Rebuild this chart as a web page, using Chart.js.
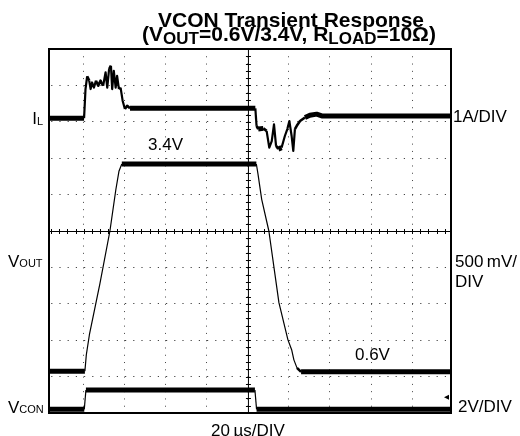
<!DOCTYPE html>
<html>
<head>
<meta charset="utf-8">
<script src="https://cdn.jsdelivr.net/npm/chart.js@4.4.0/dist/chart.umd.min.js"></script>
<style>
  html, body { margin: 0; padding: 0; background: #fff; }
</style>
</head>
<body>
<canvas id="scope" width="520" height="436"></canvas>
<script>
// x = time in µs (20 µs/DIV), y = divisions from screen centre
const xTicks = [-80, -60, -40, -20, 0, 20, 40, 60, 80];
const yTicks = [-4, -3, -2, -1, 0, 1, 2, 3, 4];

// inductor current I_L (1A/DIV)
const ilTime = [-97, -79.9, -79.2, -78.4, -77.4, -76.7, -76.0, -75.1, -74.1, -73.0, -71.9, -70.6,
  -69.4, -68.6, -67.7, -66.8, -66.2, -65.4, -64.5, -63.8, -62.9, -62.1, -61.1, -60.0, -58.9, -57.5,
  3.6, 4.2, 5.0, 7.5, 9.1, 10.4, 11.6, 12.7, 13.7, 14.8, 16.4, 18.0, 19.2, 20.2, 21.3, 22.1, 22.9,
  23.8, 25.4, 27.8, 30.2, 33.5, 36, 99];
const ilDiv = [3.10, 3.10, 3.90, 4.25, 4.13, 3.90, 4.08, 3.94, 4.13, 3.99, 4.13, 3.99,
  4.36, 3.94, 4.45, 4.54, 3.90, 4.40, 3.94, 4.26, 3.90, 3.94, 3.58, 3.35, 3.44, 3.37,
  3.37, 2.89, 2.80, 2.82, 2.75, 2.29, 2.47, 2.93, 2.34, 2.25, 2.29, 2.61, 2.80, 3.02, 2.61, 2.20, 2.80,
  2.89, 3.02, 3.12, 3.18, 3.21, 3.16, 3.16];

// output voltage V_OUT (500 mV/DIV)
const voutTime = [-97, -79.5, -78.8, -77.3, -72.2, -67.3, -64.4, -62.9, -61.5,
  4.1, 4.9, 6.7, 10.2, 15.1, 19.5, 21.3, 22.4, 23.9, 25.9, 99];
const voutDiv = [-3.85, -3.85, -3.40, -2.85, -1.45, 0.0, 1.14, 1.64, 1.84,
  1.84, 1.56, 0.87, 0.0, -1.97, -2.99, -3.26, -3.54, -3.76, -3.87, -3.87];

// control input V_CON (2V/DIV)
const vconTime = [-97, -79.8, -79.0, 3.4, 4.2, 99];
const vconDiv = [-4.90, -4.90, -4.37, -4.37, -4.90, -4.90];

const FONT = '"Liberation Sans", Arial, Helvetica, sans-serif';

const toPoints = (xs, ys) => xs.map((x, i) => ({ x: x, y: ys[i] }));

// flat parts of a scope trace look thick (noise), fast edges are thin
const traceWidth = (thin) => (ctx) => {
  const dx = Math.abs(ctx.p1.x - ctx.p0.x);
  const dy = Math.abs(ctx.p1.y - ctx.p0.y);
  if (dy > dx * 2.5) return thin;
  if (dy > dx * 0.6) return Math.max(thin, 2.6);
  return 5;
};

const trace = (xs, ys, thin) => ({
  data: toPoints(xs, ys),
  borderColor: '#000',
  borderWidth: 5,
  borderCapStyle: 'butt',
  borderJoinStyle: 'round',
  pointRadius: 0,
  tension: 0,
  segment: { borderWidth: traceWidth(thin) }
});

function richText(ctx, parts, x, y, align) {
  let w = 0;
  parts.forEach(p => { ctx.font = p.font; w += ctx.measureText(p.text).width; });
  let cx = align === 'center' ? x - w / 2 : (align === 'right' ? x - w : x);
  parts.forEach(p => {
    ctx.font = p.font;
    ctx.fillText(p.text, cx, y + (p.dy || 0));
    cx += ctx.measureText(p.text).width;
  });
}

const scopeFrame = {
  id: 'scopeFrame',
  beforeDatasetsDraw(chart) {
    const ctx = chart.ctx, a = chart.chartArea;
    const xs = chart.scales.x, ys = chart.scales.y;
    const cx = xs.getPixelForValue(0), cy = ys.getPixelForValue(0);
    ctx.save();
    ctx.strokeStyle = '#000';
    ctx.lineWidth = 1;
    ctx.beginPath();
    ctx.moveTo(a.left, cy + 0.5); ctx.lineTo(a.right, cy + 0.5);
    ctx.moveTo(cx + 0.5, a.top); ctx.lineTo(cx + 0.5, a.bottom);
    // minor ticks, 5 per division
    for (let t = -96; t <= 98; t += 4) {
      const px = Math.round(xs.getPixelForValue(t)) + 0.5;
      ctx.moveTo(px, cy - 2); ctx.lineTo(px, cy + 3);
    }
    for (let d = -4.8; d <= 4.81; d += 0.2) {
      const py = Math.round(ys.getPixelForValue(d)) + 0.5;
      ctx.moveTo(cx - 2, py); ctx.lineTo(cx + 3, py);
    }
    ctx.stroke();
    ctx.restore();
  },
  afterDraw(chart) {
    const ctx = chart.ctx, a = chart.chartArea;
    const xs = chart.scales.x, ys = chart.scales.y;
    ctx.save();
    ctx.strokeStyle = '#000';
    ctx.lineWidth = 2;
    ctx.strokeRect(a.left, a.top, a.right - a.left, a.bottom - a.top);

    // channel ground marker at the right edge
    const gy = ys.getPixelForValue(-4.57), gx = a.right - 2;
    ctx.fillStyle = '#000';
    ctx.beginPath();
    ctx.moveTo(gx - 5, gy); ctx.lineTo(gx, gy - 2.5); ctx.lineTo(gx, gy + 2.5);
    ctx.closePath();
    ctx.fill();

    ctx.textBaseline = 'alphabetic';
    const B21 = 'bold 21px ' + FONT, B17 = 'bold 17px ' + FONT;
    const R17 = '17px ' + FONT, R11 = '11px ' + FONT;

    richText(ctx, [{ text: 'VCON Transient Response', font: B21 }], 291, 27, 'center');
    richText(ctx, [
      { text: '(V', font: B21 },
      { text: 'OUT', font: B17, dy: 3 },
      { text: '=0.6V/3.4V, R', font: B21 },
      { text: 'LOAD', font: B17, dy: 3 },
      { text: '=10Ω)', font: B21 }
    ], 289, 41, 'center');

    richText(ctx, [{ text: 'I', font: R17 }, { text: 'L', font: R11, dy: 1 }], a.left - 6, 124, 'right');
    richText(ctx, [{ text: 'V', font: R17 }, { text: 'OUT', font: R11 }], 8, 267, 'left');
    richText(ctx, [{ text: 'V', font: R17 }, { text: 'CON', font: R11 }], 8, 413, 'left');

    richText(ctx, [{ text: '1A/DIV', font: R17 }], a.right + 2, 122, 'left');
    richText(ctx, [{ text: '500\u2009mV/', font: R17 }], a.right + 4, 267, 'left');
    richText(ctx, [{ text: 'DIV', font: R17 }], a.right + 4, 287, 'left');
    richText(ctx, [{ text: '2V/DIV', font: R17 }], a.right + 7, 412, 'left');

    richText(ctx, [{ text: '3.4V', font: R17 }], xs.getPixelForValue(-40.2), ys.getPixelForValue(2.39) + 6, 'center');
    richText(ctx, [{ text: '0.6V', font: R17 }], xs.getPixelForValue(60.7), ys.getPixelForValue(-3.38) + 6, 'center');

    richText(ctx, [{ text: '20\u2009µs/DIV', font: R17 }], xs.getPixelForValue(0), 436, 'center');
    ctx.restore();
  }
};

new Chart(document.getElementById('scope'), {
  type: 'line',
  data: {
    datasets: [
      trace(ilTime, ilDiv, 2.2),
      trace(voutTime, voutDiv, 1.2),
      trace(vconTime, vconDiv, 1.2)
    ]
  },
  options: {
    responsive: false,
    animation: false,
    layout: { padding: { left: 49, right: 69, top: 49, bottom: 23 } },
    plugins: { legend: { display: false }, tooltip: { enabled: false }, title: { display: false } },
    scales: {
      x: {
        type: 'linear',
        min: -97,
        max: 99,
        afterBuildTicks: (s) => { s.ticks = xTicks.map(v => ({ value: v })); },
        ticks: { display: false },
        grid: { color: '#444', lineWidth: 1, drawTicks: false },
        border: { display: false, dash: [1, 6.28], dashOffset: 0 }
      },
      y: {
        type: 'linear',
        min: -5,
        max: 5,
        afterBuildTicks: (s) => { s.ticks = yTicks.map(v => ({ value: v })); },
        ticks: { display: false },
        grid: { color: '#444', lineWidth: 1, drawTicks: false },
        border: { display: false, dash: [1.2, 7], dashOffset: 6 }
      }
    }
  },
  plugins: [scopeFrame]
});
</script>
</body>
</html>
